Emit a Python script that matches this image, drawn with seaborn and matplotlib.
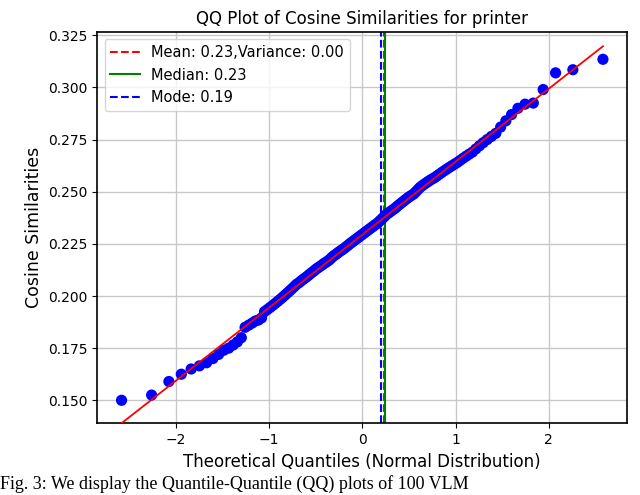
import numpy as np
import matplotlib
matplotlib.use("Agg")
import matplotlib.pyplot as plt
import seaborn as sns
from statistics import NormalDist

# sorted cosine similarities
cos_sim = [
    0.1500, 0.1525, 0.1590, 0.1625, 0.1650, 0.1665, 0.1680, 0.1700, 0.1720, 0.1740,
    0.1750, 0.1765, 0.1780, 0.1800, 0.1850, 0.1860, 0.1870, 0.1880, 0.1885, 0.1895,
    0.1925, 0.1935, 0.1945, 0.1955, 0.1965, 0.1975, 0.1985, 0.1995, 0.2005, 0.2015,
    0.2025, 0.2035, 0.2045, 0.2055, 0.2062, 0.2070, 0.2078, 0.2085, 0.2092, 0.2100,
    0.2108, 0.2115, 0.2122, 0.2130, 0.2136, 0.2142, 0.2148, 0.2155, 0.2160, 0.2166,
    0.2172, 0.2180, 0.2188, 0.2195, 0.2200, 0.2207, 0.2213, 0.2219, 0.2224, 0.2230,
    0.2237, 0.2243, 0.2250, 0.2256, 0.2262, 0.2268, 0.2274, 0.2280, 0.2286, 0.2292,
    0.2298, 0.2304, 0.2310, 0.2316, 0.2322, 0.2328, 0.2334, 0.2340, 0.2346, 0.2352,
    0.2360, 0.2368, 0.2376, 0.2384, 0.2392, 0.2398, 0.2404, 0.2410, 0.2416, 0.2422,
    0.2430, 0.2437, 0.2444, 0.2451, 0.2458, 0.2465, 0.2472, 0.2478, 0.2484, 0.2490,
    0.2500, 0.2510, 0.2520, 0.2528, 0.2535, 0.2542, 0.2549, 0.2556, 0.2562, 0.2568,
    0.2576, 0.2584, 0.2592, 0.2600, 0.2608, 0.2616, 0.2624, 0.2632, 0.2640, 0.2650,
    0.2660, 0.2670, 0.2680, 0.2690, 0.2705, 0.2720, 0.2735, 0.2750, 0.2765, 0.2780,
    0.2810, 0.2840, 0.2870, 0.2900, 0.2920, 0.2925, 0.2990, 0.3070, 0.3085, 0.3135,
]
mode_val = 0.19
mode_pos = 0.205  # where the mode line sits in the reference

y = np.array(cos_sim)
n = len(y)
# Filliben order statistic medians, as in scipy.stats.probplot
p = (np.arange(1, n + 1) - 0.3175) / (n + 0.365)
p[-1] = 0.5 ** (1.0 / n)
p[0] = 1 - p[-1]
q = np.array([NormalDist().inv_cdf(v) for v in p])
slope, intercept = np.polyfit(q, y, 1)

mean_val = y.mean()
median_val = np.median(y)

fig, ax = plt.subplots(figsize=(6.4, 4.95), dpi=100)
sns.scatterplot(x=q, y=y, color="blue", s=65, edgecolor="none", ax=ax, zorder=3)
ax.plot(q, slope * q + intercept, color="red", lw=1.3, zorder=4)
ax.axvline(mean_val, color="red", ls="--", lw=1.5, label=f"Mean: {mean_val:.2f},Variance: {y.var():.2f}")
ax.axvline(0.245, color="green", ls="-", lw=1.5, label=f"Median: {median_val:.2f}")
ax.axvline(mode_pos, color="blue", ls="--", lw=1.5, label=f"Mode: {mode_val:.2f}")

ax.set_title("QQ Plot of Cosine Similarities for printer", fontsize=12)
ax.set_xlabel("Theoretical Quantiles (Normal Distribution)", fontsize=12)
ax.set_ylabel("Cosine Similarities", fontsize=12.5)
ax.set_xlim(-2.84, 2.84)
ax.set_ylim(0.139, 0.3265)
ax.set_xticks([-2, -1, 0, 1, 2])
ax.set_yticks([0.150, 0.175, 0.200, 0.225, 0.250, 0.275, 0.300, 0.325])
ax.yaxis.set_major_formatter(matplotlib.ticker.FormatStrFormatter("%.3f"))
ax.grid(True, color="#c8c8c8", lw=1)
ax.set_axisbelow(True)
for s in ax.spines.values():
    s.set_linewidth(1.2)
ax.legend(loc="upper left", fontsize=10.5)

fig.subplots_adjust(left=0.152, right=0.98, top=0.935, bottom=0.145)
fig.text(0.0, 0.005, "Fig. 3: We display the Quantile-Quantile (QQ) plots of 100 VLM",
         fontsize=13, family="Liberation Serif", va="bottom")
fig.savefig("out.png", dpi=100)
